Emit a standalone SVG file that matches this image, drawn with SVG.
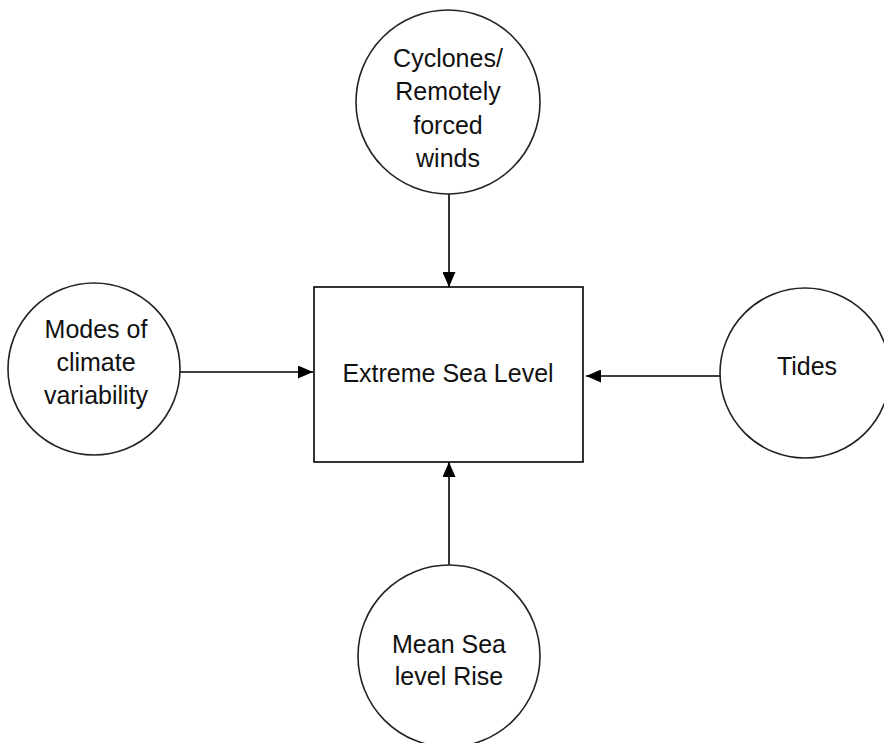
<svg xmlns="http://www.w3.org/2000/svg" width="884" height="743" viewBox="0 0 884 743">
<defs>
<style>
.node circle{fill:#fff;stroke:#222;stroke-width:1.6}
.node rect{fill:#fff;stroke:#000;stroke-width:1.6}
.node text{font-family:"Liberation Sans",Arial,sans-serif;font-size:25px;fill:#111;text-anchor:middle}
.conn line{stroke:#000;stroke-width:1.6;marker-end:url(#arr)}
</style>
<marker id="arr" markerUnits="userSpaceOnUse" markerWidth="15" markerHeight="13" refX="15" refY="6.5" orient="auto">
<path d="M0,0 L15,6.5 L0,13 z" fill="#000"/>
</marker>
</defs>
<rect width="884" height="743" fill="#fff"/>
<g id="connectors" class="conn">
<line x1="449" y1="194" x2="449" y2="287"/>
<line x1="180" y1="372" x2="313" y2="372"/>
<line x1="720" y1="376" x2="586" y2="376"/>
<line x1="449" y1="565" x2="449" y2="462"/>
</g>
<g id="extreme" class="node">
<rect x="314" y="287" width="269" height="175"/>
<text x="448" y="382">Extreme Sea Level</text>
</g>
<g id="cyclones" class="node">
<circle cx="448" cy="102" r="92"/>
<text x="448" y="67">Cyclones/</text>
<text x="448" y="100">Remotely</text>
<text x="448" y="134">forced</text>
<text x="448" y="167">winds</text>
</g>
<g id="modes" class="node">
<circle cx="94" cy="369" r="86"/>
<text x="96" y="338">Modes of</text>
<text x="96" y="371">climate</text>
<text x="96" y="404">variability</text>
</g>
<g id="tides" class="node">
<circle cx="805" cy="373" r="85"/>
<text x="807" y="375">Tides</text>
</g>
<g id="msl" class="node">
<circle cx="449" cy="656" r="91"/>
<text x="449" y="653">Mean Sea</text>
<text x="449" y="685">level Rise</text>
</g>
</svg>
